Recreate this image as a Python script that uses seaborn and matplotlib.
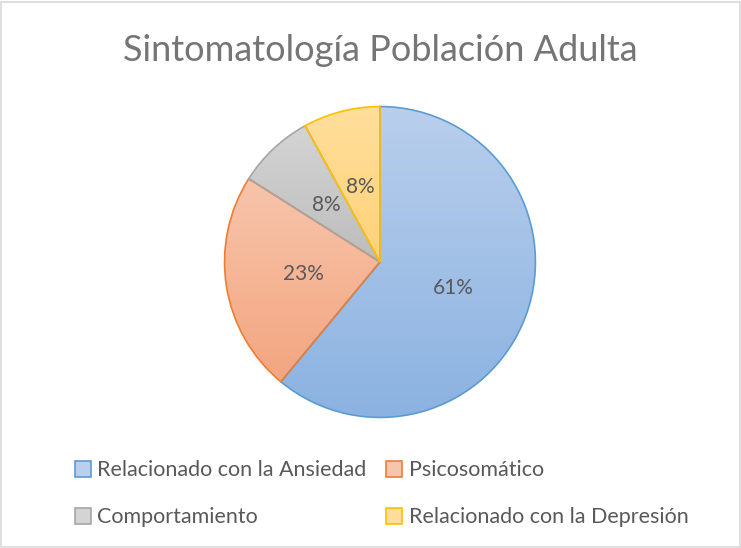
import numpy as np
import seaborn as sns
import matplotlib.pyplot as plt
from matplotlib.colors import LinearSegmentedColormap
from matplotlib.patches import Rectangle, Patch

sns.set_theme(style="white")
plt.rcParams['font.family'] = ['Lato', 'DejaVu Sans']

# datos
categorias = ["Relacionado con la Ansiedad", "Psicosomático",
              "Comportamiento", "Relacionado con la Depresión"]
porcentajes = [61, 23, 8, 8]

# colores estilo Excel (claro arriba, oscuro abajo, borde)
claros = ["#B9CFEC", "#F7C5AB", "#D4D4D4", "#FFDE9C"]
oscuros = ["#8BB2E1", "#F3A580", "#BDBDBD", "#FFD278"]
bordes = ["#5B9BD5", "#ED7D31", "#A5A5A5", "#FFC000"]
gris_texto = "#595959"

fig = plt.figure(figsize=(7.41, 5.48), dpi=100)
fig.patches.append(Rectangle((0.002, 0.002), 0.996, 0.994, transform=fig.transFigure,
                             fill=False, edgecolor="#D9D9D9", linewidth=1.2))

ax = fig.add_axes([0.3009, 0.2354, 0.4238, 0.573])
wedges, textos, autotextos = ax.pie(
    porcentajes, startangle=90, counterclock=False,
    colors=oscuros, autopct="%.0f%%", pctdistance=0.5,
    wedgeprops=dict(linewidth=1.2), textprops=dict(color=gris_texto, fontsize=15))

# relleno degradado en cada porción
for w, c1, c2, ce in zip(wedges, claros, oscuros, bordes):
    w.set_edgecolor(ce)
    w.set_facecolor("none")
    x0, y0, x1, y1 = w.get_path().get_extents(w.get_patch_transform()).extents
    cmap = LinearSegmentedColormap.from_list("g", [c2, c1])
    grad = np.linspace(0, 1, 256).reshape(-1, 1)
    im = ax.imshow(grad, cmap=cmap, origin="lower", aspect="auto",
                   extent=[x0, x1, y0, y1], zorder=0.5)
    im.set_clip_path(w)
    w.set_zorder(1)
for t in autotextos:
    t.set_zorder(2)

ax.set_xlim(-1.01, 1.01)
ax.set_ylim(-1.01, 1.01)
ax.set_aspect("equal")
ax.axis("off")

fig.text(0.513, 0.908, "Sintomatología Población Adulta", ha="center", va="center",
         fontsize=26, color="#757575")

# leyenda en dos filas
orden = [0, 2, 1, 3]
manejadores = [Patch(facecolor=claros[i], edgecolor=bordes[i], linewidth=1.2) for i in orden]
etiquetas = [categorias[i] for i in orden]
fig.legend(manejadores, etiquetas, ncol=2, loc="center", bbox_to_anchor=(0.515, 0.099),
           frameon=False, fontsize=15.5, labelcolor=gris_texto, handlelength=0.75,
           handleheight=0.75, handletextpad=0.3, columnspacing=0.9, labelspacing=1.25)

fig.savefig("out.png", dpi=100)
